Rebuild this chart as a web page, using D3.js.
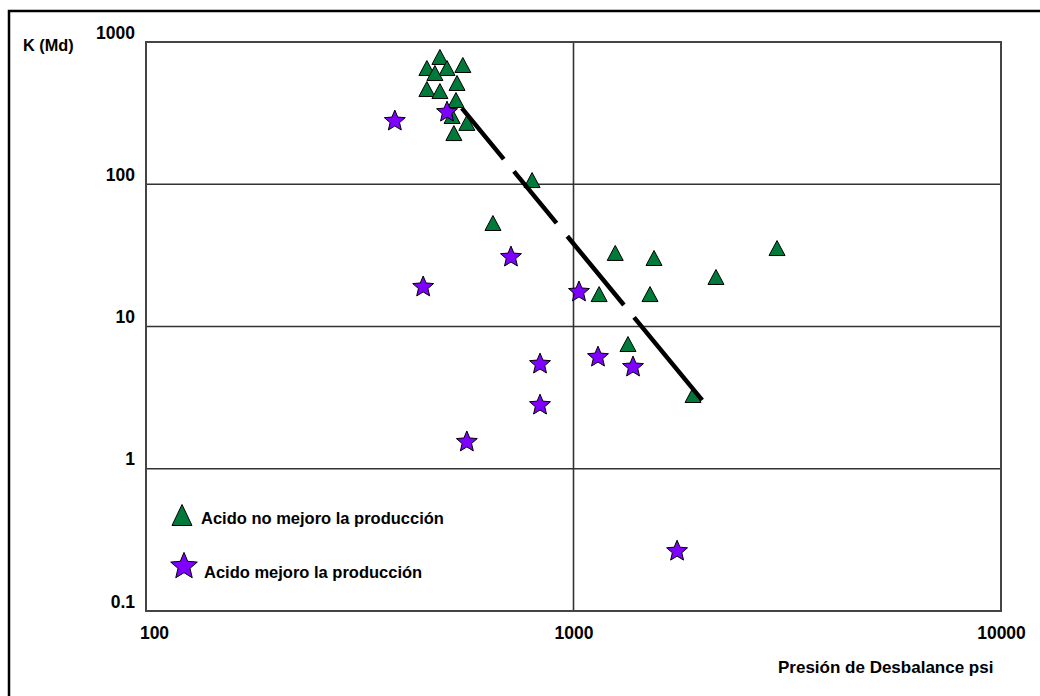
<!DOCTYPE html>
<html>
<head>
<meta charset="utf-8">
<script src="https://cdn.jsdelivr.net/npm/d3@7"></script>
<style>
  html, body { margin: 0; padding: 0; background: #fff; }
  svg { display: block; }
  text { font-family: "Liberation Sans", Arial, sans-serif; font-weight: bold; fill: #000; }
</style>
</head>
<body>
<svg id="chart" width="1040" height="696"></svg>
<script>
// ---------- data ----------
const xTicks = [100, 1000, 10000];
const xTickLabels = ["100", "1000", "10000"];
const yTicks = [0.1, 1, 10, 100, 1000];
const yTickLabels = ["0.1", "1", "10", "100", "1000"];
const xGrid = [1000];
const yGrid = [1, 10, 100];

const xTitle = "Presión de Desbalance psi";
const yTitle = "K (Md)";
const seriesNames = ["Acido no mejoro la producción", "Acido mejoro la producción"];

// Acido no mejoro la producción (triangles)
const triPressure = [487, 454, 506, 551, 474, 454, 487, 534, 531, 520, 563, 525, 800, 648, 1252, 1543, 2993, 2154, 1148, 1510, 1341, 1904];
const triK        = [785, 656, 656, 689, 605, 467, 452, 515, 391, 302, 270, 229, 107, 53.4, 32.9, 30.3, 35.6, 22.3, 16.9, 16.9, 7.53, 3.30];

// Acido mejoro la producción (stars)
const starPressure = [382, 506, 714, 445, 1030, 835, 1141, 1378, 835, 563, 1747];
const starK        = [283, 327, 31.3, 19.3, 17.8, 5.54, 6.20, 5.28, 2.85, 1.57, 0.268];

// trend line
const trendPressure = [548, 2000];
const trendK = [343, 3.04];

// ---------- layout ----------
const svg = d3.select("#chart");
const L = 146, R = 1001, T = 42, B = 611;
const x = d3.scaleLog().domain([100, 10000]).range([L, R]);
const y = d3.scaleLog().domain([0.1, 1000]).range([B, T]);

// outer frame
svg.append("rect").attr("x", 9).attr("y", 11).attr("width", 1100).attr("height", 800)
  .attr("fill", "none").attr("stroke", "#000").attr("stroke-width", 2.5);

// gridlines
svg.append("g").selectAll("line").data(yGrid).join("line")
  .attr("x1", L).attr("x2", R).attr("y1", d => y(d)).attr("y2", d => y(d))
  .attr("stroke", "#333").attr("stroke-width", 1.6);
svg.append("g").selectAll("line").data(xGrid).join("line")
  .attr("y1", T).attr("y2", B).attr("x1", d => x(d)).attr("x2", d => x(d))
  .attr("stroke", "#333").attr("stroke-width", 1.6);

// plot frame
svg.append("rect").attr("x", L).attr("y", T).attr("width", R - L).attr("height", B - T)
  .attr("fill", "none").attr("stroke", "#444").attr("stroke-width", 2);

const FONT = "'Liberation Sans', Arial, sans-serif";

// axes (labels only)
const yAxis = d3.axisLeft(y).tickValues(yTicks)
  .tickFormat((d, i) => yTickLabels[i]).tickSize(0).tickPadding(11);
const gy = svg.append("g").attr("transform", `translate(${L},0)`).call(yAxis);
gy.select(".domain").remove();
gy.selectAll("text").attr("dy", null).attr("y", -4)
  .style("font-size", "17.5px").style("font-family", FONT).style("font-weight", "bold").style("fill", "#000");

const xAxis = d3.axisBottom(x).tickValues(xTicks)
  .tickFormat((d, i) => xTickLabels[i]).tickSize(0).tickPadding(0);
const gx = svg.append("g").attr("transform", `translate(0,${B})`).call(xAxis);
gx.select(".domain").remove();
gx.selectAll("text").attr("dy", null).attr("y", 28)
  .style("font-size", "17.5px").style("font-family", FONT).style("font-weight", "bold").style("fill", "#000");
gx.selectAll(".tick").filter((d, i) => i === 0).select("text").attr("x", 8);

// titles
svg.append("text").attr("x", 23).attr("y", 51).style("font-size", "16.3px").text(yTitle);
svg.append("text").attr("x", 778).attr("y", 673).style("font-size", "17px").text(xTitle);

// marker shapes
function triPath(cx, cy, w, h) {
  return `M${cx},${cy - h / 2}L${cx + w / 2},${cy + h / 2}L${cx - w / 2},${cy + h / 2}Z`;
}
function starPath(cx, cy, r, ratio) {
  const pts = [];
  for (let k = 0; k < 10; k++) {
    const rr = k % 2 === 0 ? r : r * ratio;
    const a = -Math.PI / 2 + k * Math.PI / 5;
    pts.push([cx + rr * Math.cos(a), cy + rr * Math.sin(a) + r * 0.1]);
  }
  return "M" + pts.map(p => p.join(",")).join("L") + "Z";
}

const green = "#007a3a", purple = "#7f00ff";

// triangles
svg.append("g").selectAll("path").data(triPressure.map((p, i) => [p, triK[i]])).join("path")
  .attr("d", d => triPath(x(d[0]), y(d[1]), 16, 15))
  .attr("fill", green).attr("stroke", "#000").attr("stroke-width", 1);

// stars
svg.append("g").selectAll("path").data(starPressure.map((p, i) => [p, starK[i]])).join("path")
  .attr("d", d => starPath(x(d[0]), y(d[1]), 11, 0.45))
  .attr("fill", purple).attr("stroke", "#000").attr("stroke-width", 1);

// trend line
const trend = trendPressure.map((p, i) => [p, trendK[i]]);
svg.append("path").datum(trend)
  .attr("d", d3.line().x(d => x(d[0])).y(d => y(d[1])))
  .attr("fill", "none").attr("stroke", "#000").attr("stroke-width", 4.5)
  .attr("stroke-dasharray", "66,16,67,17,89,16,120");

// legend
svg.append("path").attr("d", triPath(182, 515, 20, 21))
  .attr("fill", green).attr("stroke", "#000").attr("stroke-width", 1);
svg.append("text").attr("x", 201).attr("y", 524).style("font-size", "16.5px").text(seriesNames[0]);
svg.append("path").attr("d", starPath(184, 565, 14, 0.45))
  .attr("fill", purple).attr("stroke", "#000").attr("stroke-width", 1);
svg.append("text").attr("x", 204).attr("y", 578).style("font-size", "16.5px").text(seriesNames[1]);
</script>
</body>
</html>
